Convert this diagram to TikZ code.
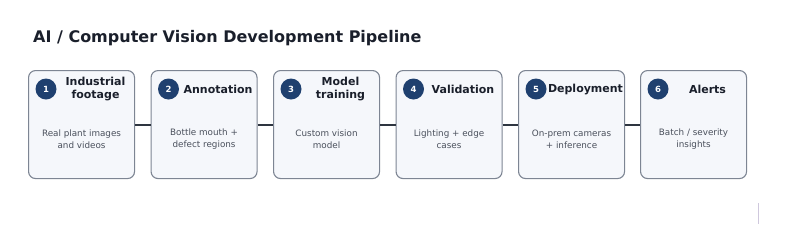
\documentclass[tikz,border=0pt]{standalone}
\usepackage{fontspec}
\setmainfont{DejaVu Sans}
\begin{document}
\begin{tikzpicture}[x=1pt,y=-1pt,
  stepbox/.style={draw=boxborder,fill=boxfill,line width=1.1pt,rounded corners=7pt,minimum width=106pt,minimum height=108pt,anchor=north west,inner sep=0pt},
  badge/.style={circle,fill=badgeblue,minimum size=21pt,inner sep=0pt,text=white,font=\bfseries\fontsize{8.5}{9}\selectfont},
  ttl/.style={align=center,text=titletext,font=\bfseries\fontsize{11}{13}\selectfont,inner sep=0pt},
  desc/.style={align=center,text=desctext,font=\fontsize{8.8}{12}\selectfont,inner sep=0pt},
  link/.style={draw=linkcol,line width=2pt}]
\definecolor{boxborder}{HTML}{7D8593}
\definecolor{boxfill}{HTML}{F5F7FB}
\definecolor{badgeblue}{HTML}{1F406F}
\definecolor{titletext}{HTML}{1A1F2B}
\definecolor{desctext}{HTML}{4A505C}
\definecolor{linkcol}{HTML}{2E3540}
\definecolor{lilac}{HTML}{CFC8DD}
\useasboundingbox (0,0) rectangle (790,242);
\node[anchor=base west,inner sep=0pt,text=titletext,font=\bfseries\fontsize{16}{18}\selectfont] (head) at (33,42) {AI / Computer Vision Development Pipeline};
\foreach \i/\x/\t/\d in {1/28/{Industrial\\footage}/{Real plant images\\and videos},
  2/150.5/{Annotation}/{Bottle mouth +\\defect regions},
  3/273/{Model\\training}/{Custom vision\\model},
  4/395.5/{Validation}/{Lighting + edge\\cases},
  5/518/{Deployment}/{On-prem cameras\\+ inference},
  6/640/{Alerts}/{Batch / severity\\insights}}{
  \node[stepbox] (b\i) at (\x,70) {};
  \node[badge] (c\i) at ([xshift=18pt,yshift=-19pt]b\i.north west) {\i};
  \node[ttl] (t\i) at ([xshift=67.5pt,yshift=-19.5pt]b\i.north west) {\t};
  \node[desc] (d\i) at ([yshift=-15pt]b\i.center) {\d};
}
\foreach \a/\b in {1/2,2/3,3/4,4/5,5/6}{
  \draw[link] (b\a.east) -- (b\b.west);
}
\coordinate (v1) at (758.5,203);
\coordinate (v2) at (758.5,224);
\draw[lilac,line width=0.8pt] (v1) -- (v2);
\end{tikzpicture}
\end{document}
